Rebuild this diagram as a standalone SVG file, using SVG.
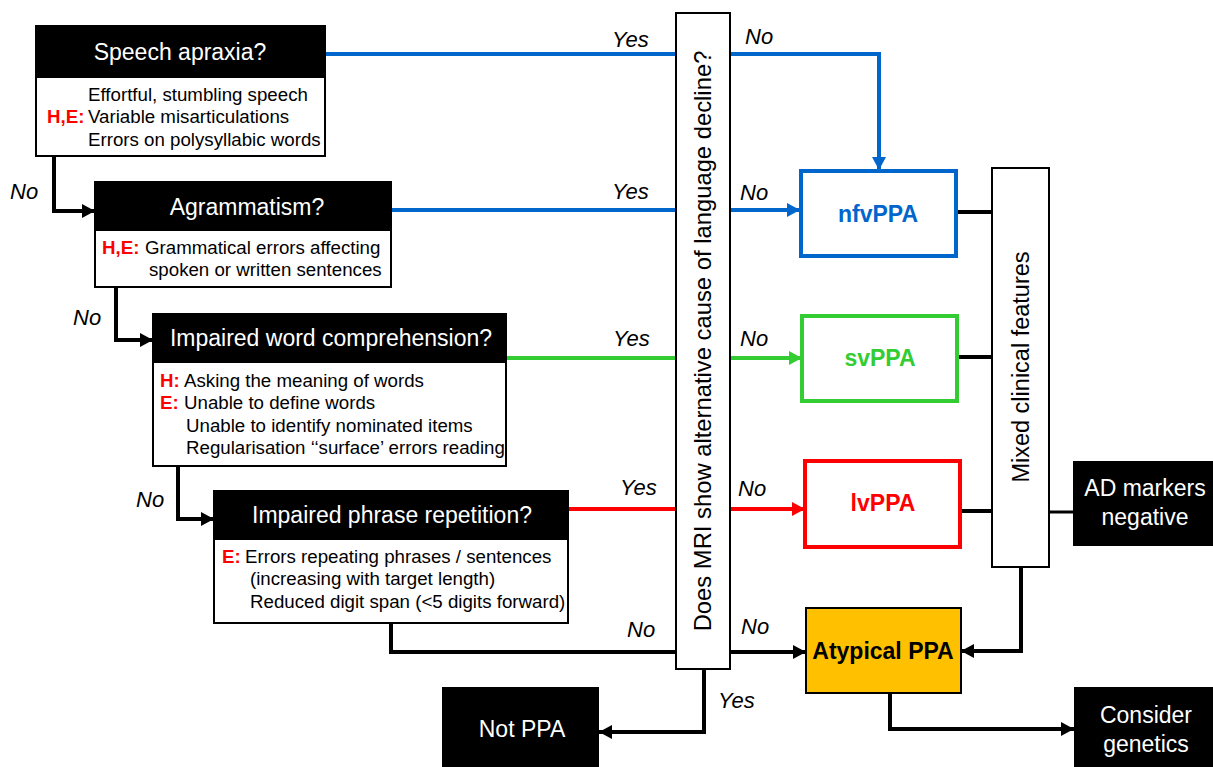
<svg xmlns="http://www.w3.org/2000/svg" width="1213" height="767" viewBox="0 0 1213 767">
<style>
text{font-family:"Liberation Sans",Arial,sans-serif}
.hdr{fill:#000;stroke:#000;stroke-width:2}
.body{fill:#fff;stroke:#000;stroke-width:2}
.ht{fill:#fff;font-size:23px;text-anchor:middle}
.bt{fill:#000;font-size:18.7px}
.lab{font-size:18.7px;font-weight:bold;fill:#f00}
.yn{fill:#000;font-size:22px;font-style:italic}
.res{font-size:23px;font-weight:bold;text-anchor:middle}
.bk{fill:#000}
.wt{fill:#fff;font-size:23px;text-anchor:middle}
.c{fill:none;stroke-width:4}
.blue{stroke:#0066CC}
.green{stroke:#33CC33}
.red{stroke:#FF0000}
.black{stroke:#000}
</style>
<defs>
<marker id="ab" markerUnits="userSpaceOnUse" markerWidth="14" markerHeight="14" refX="13" refY="7" orient="auto"><path d="M0,0 L13,7 L0,14 z" fill="#0066CC"/></marker>
<marker id="ag" markerUnits="userSpaceOnUse" markerWidth="14" markerHeight="14" refX="13" refY="7" orient="auto"><path d="M0,0 L13,7 L0,14 z" fill="#33CC33"/></marker>
<marker id="ar" markerUnits="userSpaceOnUse" markerWidth="14" markerHeight="14" refX="13" refY="7" orient="auto"><path d="M0,0 L13,7 L0,14 z" fill="#FF0000"/></marker>
<marker id="ak" markerUnits="userSpaceOnUse" markerWidth="14" markerHeight="14" refX="13" refY="7" orient="auto"><path d="M0,0 L13,7 L0,14 z" fill="#000"/></marker>
</defs>
<rect width="1213" height="767" fill="#fff"/>

<g id="connectors">
<path class="c blue" d="M325,54 H676"/>
<path class="c blue" d="M730,54 H879 V170" marker-end="url(#ab)"/>
<path class="c blue" d="M391,210 H676"/>
<path class="c blue" d="M730,210 H800" marker-end="url(#ab)"/>
<path class="c green" d="M506,358 H676"/>
<path class="c green" d="M730,358 H802" marker-end="url(#ag)"/>
<path class="c red" d="M568,509 H676"/>
<path class="c red" d="M730,509 H805" marker-end="url(#ar)"/>
<path class="c black" d="M54,156 V211 H95" marker-end="url(#ak)"/>
<path class="c black" d="M116,287 V340 H153" marker-end="url(#ak)"/>
<path class="c black" d="M178,466 V519 H214" marker-end="url(#ak)"/>
<path class="c black" d="M391,623 V652 H676"/>
<path class="c black" d="M730,652 H806" marker-end="url(#ak)"/>
<path class="c black" d="M704,669 V732 H599" marker-end="url(#ak)"/>
<path class="c black" d="M956,212 H992"/>
<path class="c black" d="M957,357 H992"/>
<path class="c black" d="M960,511 H992"/>
<path class="c black" style="stroke-width:3" d="M1049,512 H1073"/>
<path class="c black" d="M1021,567 V651 H961" marker-end="url(#ak)"/>
<path class="c black" d="M890,693 V729 H1074" marker-end="url(#ak)"/>
<text class="yn" x="612" y="47">Yes</text>
<text class="yn" x="745" y="44">No</text>
<text class="yn" x="612" y="199">Yes</text>
<text class="yn" x="740" y="200">No</text>
<text class="yn" x="613" y="346">Yes</text>
<text class="yn" x="740" y="346">No</text>
<text class="yn" x="620" y="495">Yes</text>
<text class="yn" x="738" y="496">No</text>
<text class="yn" x="627" y="637">No</text>
<text class="yn" x="741" y="634">No</text>
<text class="yn" x="718" y="708">Yes</text>
<text class="yn" x="10" y="199">No</text>
<text class="yn" x="73" y="325">No</text>
<text class="yn" x="136" y="507">No</text>
</g>

<g id="speech-apraxia">
<rect class="body" x="36" y="77" width="289" height="79"/>
<rect class="hdr" x="36" y="26" width="289" height="51"/>
<text class="ht" x="180" y="60">Speech apraxia?</text>
<text class="bt" x="88" y="101">Effortful, stumbling speech</text>
<text class="lab" x="47" y="123">H,E:</text>
<text class="bt" x="88" y="123">Variable misarticulations</text>
<text class="bt" x="88" y="146">Errors on polysyllabic words</text>
</g>

<g id="agrammatism">
<rect class="body" x="95" y="230" width="296" height="57"/>
<rect class="hdr" x="95" y="182" width="296" height="48"/>
<text class="ht" x="247" y="215">Agrammatism?</text>
<text class="lab" x="102" y="254">H,E:</text>
<text class="bt" x="145" y="254">Grammatical errors affecting</text>
<text class="bt" x="149" y="276">spoken or written sentences</text>
</g>

<g id="word-comprehension">
<rect class="body" x="153" y="362" width="353" height="104"/>
<rect class="hdr" x="153" y="314" width="353" height="48"/>
<text class="ht" x="331" y="346">Impaired word comprehension?</text>
<text class="lab" x="160" y="387">H:</text>
<text class="bt" x="184" y="387">Asking the meaning of words</text>
<text class="lab" x="160" y="409">E:</text>
<text class="bt" x="184" y="409">Unable to define words</text>
<text class="bt" x="186" y="432">Unable to identify nominated items</text>
<text class="bt" x="186" y="454">Regularisation ‘‘surface’ errors reading</text>
</g>

<g id="phrase-repetition">
<rect class="body" x="214" y="539" width="354" height="84"/>
<rect class="hdr" x="214" y="491" width="354" height="48"/>
<text class="ht" x="392" y="523">Impaired phrase repetition?</text>
<text class="lab" x="222" y="563">E:</text>
<text class="bt" x="245" y="563">Errors repeating phrases / sentences</text>
<text class="bt" x="250" y="585">(increasing with target length)</text>
<text class="bt" x="250" y="608">Reduced digit span (&lt;5 digits forward)</text>
</g>

<g id="mri">
<rect x="676" y="13" width="54" height="656" fill="#fff" stroke="#000" stroke-width="2"/>
<text transform="translate(711,341) rotate(-90)" font-size="23.8" text-anchor="middle" fill="#000">Does MRI show alternative cause of language decline?</text>
</g>

<g id="nfvppa">
<rect x="801" y="171" width="155" height="85" fill="#fff" stroke="#0066CC" stroke-width="4"/>
<text class="res" x="878" y="222" fill="#0066CC">nfvPPA</text>
</g>

<g id="svppa">
<rect x="802" y="316" width="155" height="85" fill="#fff" stroke="#33CC33" stroke-width="4"/>
<text class="res" x="880" y="366" fill="#33CC33">svPPA</text>
</g>

<g id="lvppa">
<rect x="805" y="461" width="155" height="86" fill="#fff" stroke="#FF0000" stroke-width="4"/>
<text class="res" x="883" y="511" fill="#FF0000">lvPPA</text>
</g>

<g id="mixed">
<rect x="992" y="168" width="57" height="399" fill="#fff" stroke="#000" stroke-width="2"/>
<text transform="translate(1029,367) rotate(-90)" font-size="23.5" text-anchor="middle" fill="#000">Mixed clinical features</text>
</g>

<g id="ad-markers">
<rect class="bk" x="1073" y="461" width="140" height="85"/>
<text class="wt" x="1145" y="496">AD markers</text>
<text class="wt" x="1145" y="525">negative</text>
</g>

<g id="atypical">
<rect x="806" y="608" width="155" height="85" fill="#FFC000" stroke="#000" stroke-width="2"/>
<text class="res" x="883" y="659" fill="#000">Atypical PPA</text>
</g>

<g id="not-ppa">
<rect class="bk" x="442" y="687" width="157" height="80"/>
<text class="wt" x="522" y="737">Not PPA</text>
</g>

<g id="consider-genetics">
<rect class="bk" x="1074" y="687" width="139" height="80"/>
<text class="wt" x="1146" y="723">Consider</text>
<text class="wt" x="1146" y="752">genetics</text>
</g>
</svg>
